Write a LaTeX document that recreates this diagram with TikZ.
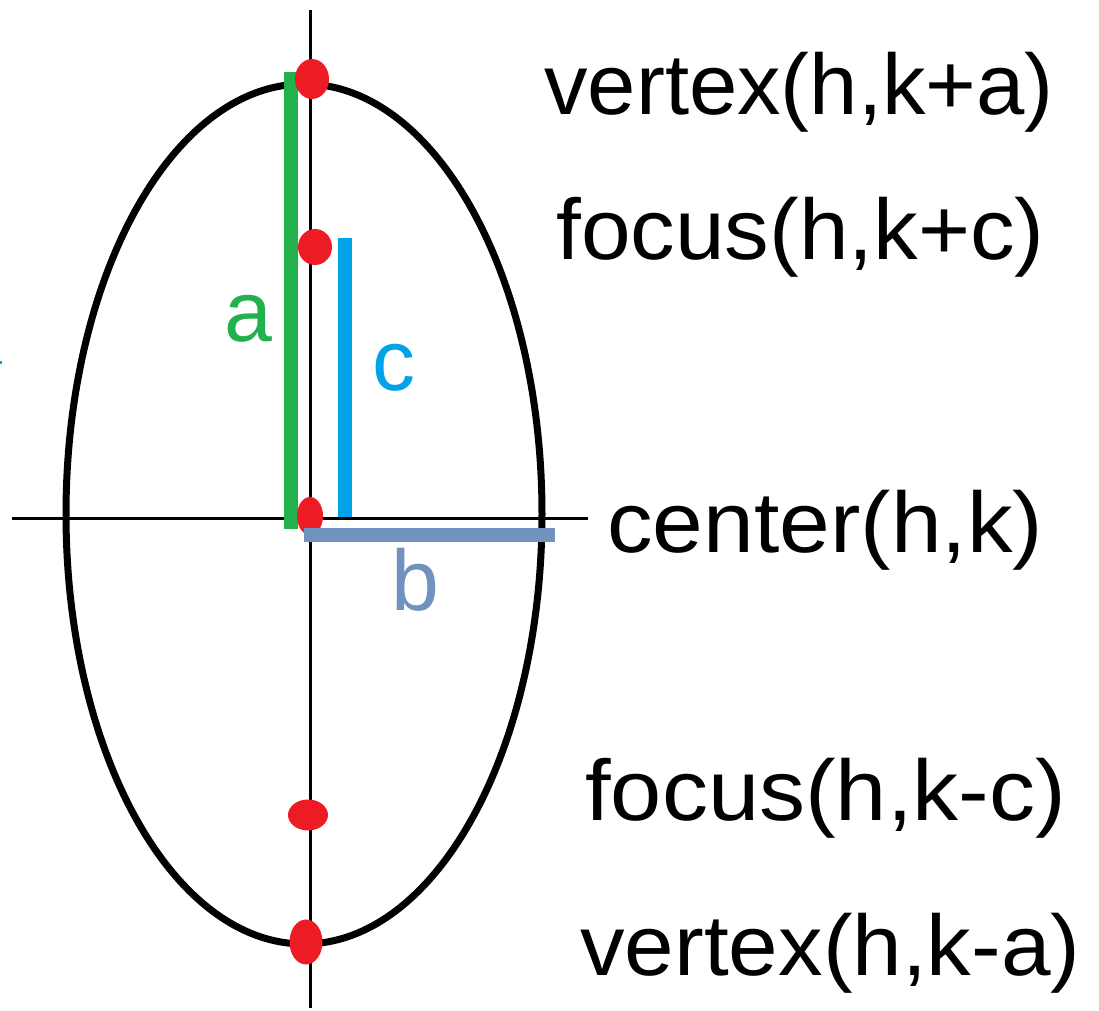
\documentclass[tikz,border=0pt]{standalone}
\usepackage{fontspec}
\usepackage{graphicx}
\setmainfont{Liberation Sans}
\usetikzlibrary{shapes.geometric}
\definecolor{cgreen}{RGB}{34,177,76}
\definecolor{cblue}{RGB}{0,162,232}
\definecolor{cslate}{RGB}{112,146,190}
\definecolor{cred}{RGB}{237,28,36}
\begin{document}
\begin{tikzpicture}[x=0.5pt,y=-0.5pt,
  axis/.style={black,line width=1.5pt},
  dot/.style={ellipse,fill=cred,draw=none,inner sep=0pt},
  lbl/.style={anchor=base west,inner sep=0pt,font=\fontsize{43pt}{50pt}\selectfont},
  seglbl/.style={inner sep=0pt,font=\fontsize{43pt}{50pt}\selectfont}]
\useasboundingbox (0,0) rectangle (1099,1011);
% axes
\coordinate (vt) at (310.5,10);
\coordinate (vb) at (310.5,1008);
\coordinate (hl) at (12,518);
\coordinate (hr) at (588,518);
\draw[axis] (vt) -- (vb);
\draw[axis] (hl) -- (hr);
% ellipse
\coordinate (ec) at (304,514);
\draw[black,line width=3.5pt] (ec) ellipse [x radius=119pt, y radius=215pt];
% segments
\coordinate (at) at (291,72);
\coordinate (ab) at (291,529);
\draw[cgreen,line width=7pt] (at) -- (ab);
\coordinate (ct) at (345,238);
\coordinate (cb) at (345,517);
\draw[cblue,line width=7pt] (ct) -- (cb);
% dots
\node[dot,minimum width=17pt,minimum height=20pt] (v1) at (312,79) {};
\node[dot,minimum width=17pt,minimum height=18pt] (f1) at (315,247) {};
\node[dot,minimum width=13pt,minimum height=19pt] (c0) at (310,516) {};
\node[dot,minimum width=20pt,minimum height=15.5pt] (f2) at (308,815) {};
\node[dot,minimum width=16.5pt,minimum height=22.5pt] (v2) at (306,942) {};
% b segment
\coordinate (bl) at (304,535);
\coordinate (br) at (555,535);
\draw[cslate,line width=7pt] (bl) -- (br);
% segment labels
\node[seglbl,text=cgreen,anchor=base] (la) at (248,342) {a};
\node[seglbl,text=cblue,anchor=base] (lc) at (394,390) {c};
\node[seglbl,text=cslate,anchor=base] (lb) at (415,610) {b};
% point labels
\node[lbl] (tv1) at (544,115) {\scalebox{1.01}[1]{vertex(h,k+a)}};
\node[lbl] (tf1) at (556,259) {\scalebox{1.037}[1]{focus(h,k+c)}};
\node[lbl] (tc0) at (607,552) {\scalebox{1.06}[1]{center(h,k)}};
\node[lbl] (tf2) at (585,820) {\scalebox{1.07}[1]{focus(h,k-c)}};
\node[lbl] (tv2) at (580,975) {\scalebox{1.036}[1]{vertex(h,k-a)}};
% stray mark
\fill[cblue] (0,361) rectangle (1.5,364);
\end{tikzpicture}
\end{document}
